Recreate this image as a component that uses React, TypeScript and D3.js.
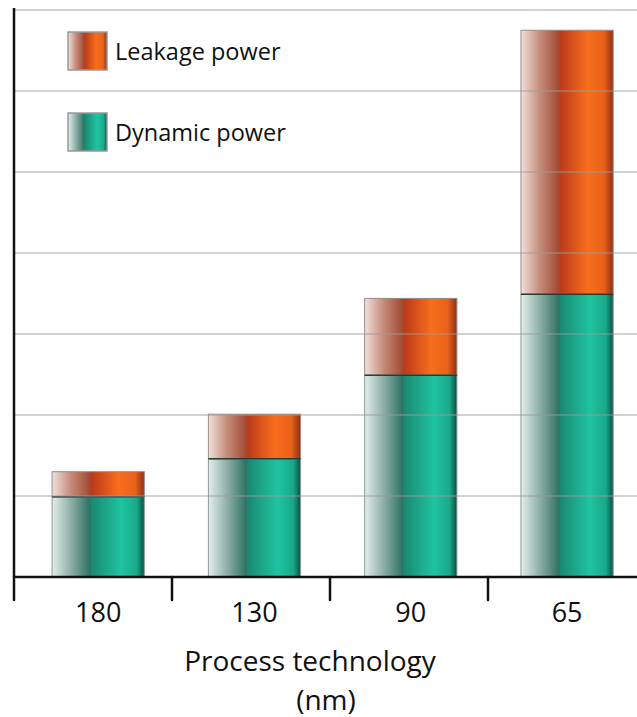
import React from "react";
import * as d3 from "d3";

const categories = ["180", "130", "90", "65"];
const dynamicPower = [0.99, 1.46, 2.49, 3.49];
const leakagePower = [0.31, 0.55, 0.95, 3.26];
const gridTicks = [0, 1, 2, 3, 4, 5, 6, 7];
const seriesNames = ["Leakage power", "Dynamic power"];
const xTitle = ["Process technology", "(nm)"];

const W = 637;
const H = 717;
const axisX = 14;
const right = 637;
const baseY = 577;
const topY = 10;

export default function App() {
  const x = d3.scaleBand<string>().domain(categories).range([13, 13 + 156.3 * 4.09]).paddingInner(0.41).paddingOuter(0.25);
  const y = d3.scaleLinear().domain([0, 7]).range([baseY, topY]);
  const bw = x.bandwidth();
  const font = "'Open Sans', 'Noto Sans', sans-serif";

  return (
    <svg width={W} height={H} style={{ position: "absolute", left: 0, top: 0, background: "#fff" }}>
      <defs>
        <linearGradient id="gLeak" x1="0" x2="1" y1="0" y2="0">
          <stop offset="0" stopColor="#f1e0da" />
          <stop offset="0.2" stopColor="#c68d7c" />
          <stop offset="0.41" stopColor="#a24a32" />
          <stop offset="0.43" stopColor="#bb3a1a" />
          <stop offset="0.72" stopColor="#f86e1c" />
          <stop offset="0.9" stopColor="#e9621a" />
          <stop offset="1" stopColor="#8e2f14" />
        </linearGradient>
        <linearGradient id="gDyn" x1="0" x2="1" y1="0" y2="0">
          <stop offset="0" stopColor="#e3eeeb" />
          <stop offset="0.2" stopColor="#8fb0a8" />
          <stop offset="0.41" stopColor="#2f7363" />
          <stop offset="0.43" stopColor="#1a8a72" />
          <stop offset="0.75" stopColor="#1fc4a1" />
          <stop offset="0.92" stopColor="#18a98a" />
          <stop offset="1" stopColor="#0d4f41" />
        </linearGradient>
      </defs>

      {categories.map((c, i) => {
        const x0 = x(c)!;
        const yd = y(dynamicPower[i]);
        const yt = y(dynamicPower[i] + leakagePower[i]);
        return (
          <g key={c}>
            <rect x={x0} y={yd} width={bw} height={baseY - yd} fill="url(#gDyn)" stroke="#8a9a96" strokeWidth={1} />
            <rect x={x0} y={yt} width={bw} height={yd - yt} fill="url(#gLeak)" stroke="#9a8a86" strokeWidth={1} />
            <line x1={x0} x2={x0 + bw} y1={yd} y2={yd} stroke="#2b3a36" strokeWidth={1.5} />
          </g>
        );
      })}

      {gridTicks.filter((t) => t > 0).map((t) => (
        <line key={t} x1={axisX} x2={right} y1={y(t)} y2={y(t)} stroke="#999" strokeOpacity={0.6} strokeWidth={1.5} />
      ))}

      <line x1={axisX} x2={axisX} y1={8} y2={baseY} stroke="#111" strokeWidth={2.5} />
      <line x1={axisX} x2={right} y1={baseY} y2={baseY} stroke="#111" strokeWidth={2.5} />
      {d3.range(categories.length).map((i) => {
        const tx = axisX + 158 * i;
        return <line key={i} x1={tx} x2={tx} y1={baseY} y2={600} stroke="#111" strokeWidth={2.5} strokeLinecap="round" />;
      })}

      {categories.map((c) => (
        <text key={c} x={x(c)! + bw / 2} y={622} textAnchor="middle" fontFamily={font} fontSize={27} fill="#111">
          {c}
        </text>
      ))}

      <text x={310} y={671} textAnchor="middle" fontFamily={font} fontSize={28} fill="#111">{xTitle[0]}</text>
      <text x={326} y={710} textAnchor="middle" fontFamily={font} fontSize={28} fill="#111">{xTitle[1]}</text>

      {seriesNames.map((s, i) => {
        const ly = 32 + i * 81;
        return (
          <g key={s}>
            <rect x={68} y={ly} width={39} height={38} fill={i === 0 ? "url(#gLeak)" : "url(#gDyn)"} stroke="#999" strokeWidth={1.5} />
            <text x={115} y={ly + 28} fontFamily={font} fontSize={23.5} fill="#111">{s}</text>
          </g>
        );
      })}
    </svg>
  );
}
